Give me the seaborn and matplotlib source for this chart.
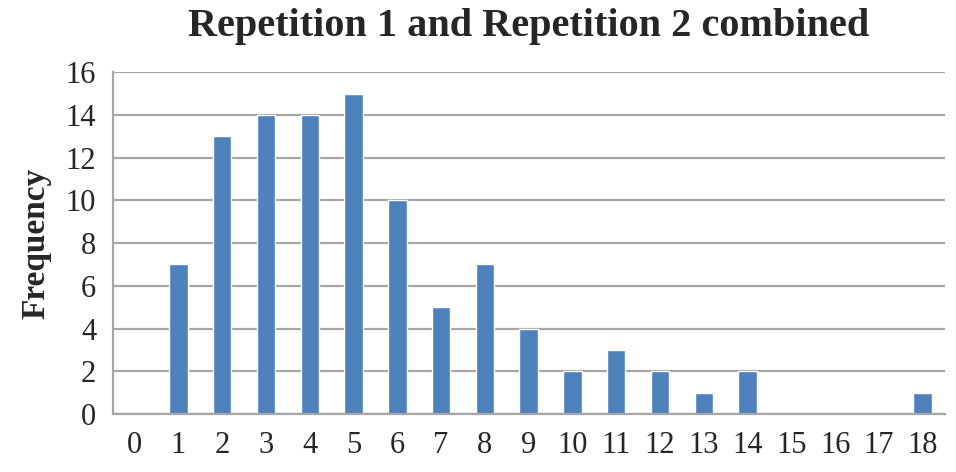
import pandas as pd
import matplotlib.pyplot as plt
import seaborn as sns

# Frequency of each count value, both repetitions combined
counts = list(range(19))
frequency = [0, 7, 13, 14, 14, 15, 10, 5, 7, 4, 2, 3, 2, 1, 2, 0, 0, 0, 1]
y_ticks = [0, 2, 4, 6, 8, 10, 12, 14, 16]

df = pd.DataFrame({'count': [str(c) for c in counts], 'frequency': frequency})

sns.set_style('white')
plt.rcParams['font.family'] = ['Liberation Serif', 'DejaVu Serif']

fig = plt.figure(figsize=(9.56, 4.72), dpi=100)
ax = fig.add_axes([0.118, 0.123, 0.870, 0.724])

sns.barplot(data=df, x='count', y='frequency', color='#4F81BD', width=0.42,
            saturation=1, ax=ax, zorder=3)

grid_col = '#a6a6a6'
ax.set_ylim(0, 16)
ax.set_yticks(y_ticks)
ax.set_xlim(-0.5, len(counts) - 0.5)
ax.grid(axis='y', color=grid_col, linewidth=1.6, zorder=0)
ax.set_axisbelow(True)

for s in ['top', 'right']:
    ax.spines[s].set_visible(False)
for s in ['left', 'bottom']:
    ax.spines[s].set_color(grid_col)
    ax.spines[s].set_linewidth(1.6)
    ax.spines[s].set_zorder(4)

# tick marks sit between categories, labels centred on them
ax.set_xticks([i + 0.5 for i in range(-1, len(counts))], minor=True)
ax.tick_params(axis='x', which='major', length=0, labelsize=22, pad=12)
ax.tick_params(axis='x', which='minor', length=8, width=1.6, color=grid_col)
ax.tick_params(axis='y', length=8, width=1.6, color=grid_col, labelsize=22, pad=4)

ax.set_xlabel('')
ax.set_ylabel('Frequency', fontsize=24, fontweight='bold', labelpad=10)
ax.set_title('Repetition 1 and Repetition 2 combined', fontsize=29,
             fontweight='bold', pad=26)

fig.savefig('out.png', dpi=100)
